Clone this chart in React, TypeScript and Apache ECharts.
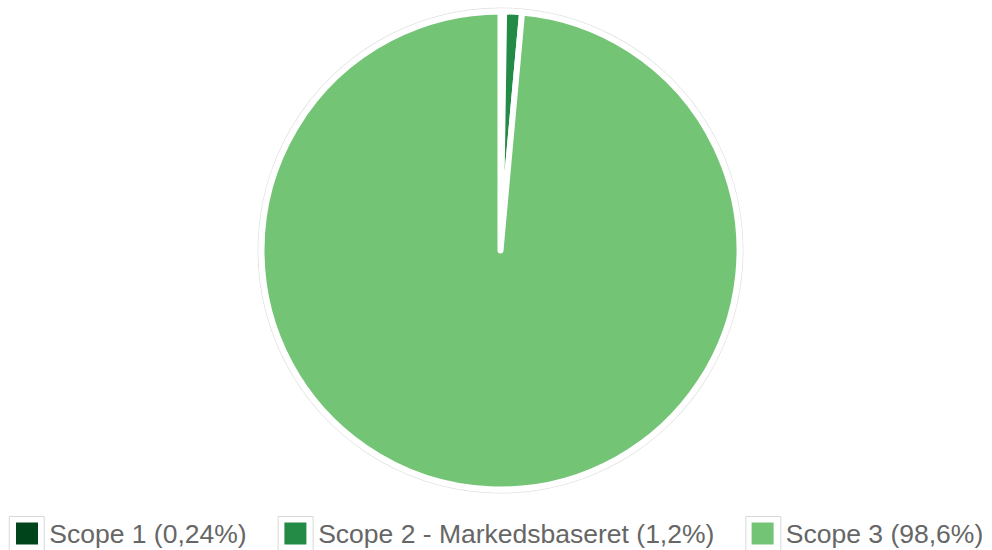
import React, { useEffect, useRef } from "react";
import * as echarts from "echarts";

const categories = ["Scope 1", "Scope 2 - Markedsbaseret", "Scope 3"];
const percentLabels = ["0,24%", "1,2%", "98,6%"];
const values = [0.24, 1.2, 98.6];
const colors = ["#00441b", "#238b45", "#74c476"];

const FONT_FAMILY = "Liberation Sans";
const FONT_SIZE = 26.5;
const BOX = 35;
const INNER = 22;
const ITEM_GAP = 31;
const LEGEND_TOP = 516;
const WIDTH = 992;

export default function App() {
  const ref = useRef<HTMLDivElement>(null);

  useEffect(() => {
    if (!ref.current) return;
    const chart = echarts.init(ref.current, undefined, { renderer: "svg" });
    const labelOf = (name: string) => {
      const i = categories.indexOf(name);
      return `${name} (${percentLabels[i]})`;
    };

    // measure legend texts to place the coloured squares inside the boxes
    const canvas = document.createElement("canvas");
    const ctx = canvas.getContext("2d")!;
    ctx.font = `normal normal ${FONT_SIZE}px ${FONT_FAMILY}`;
    const textW = categories.map((c) => ctx.measureText(labelOf(c)).width);
    const itemW = textW.map((w) => BOX + 5 + w);
    const total = itemW.reduce((a, b) => a + b, 0) + ITEM_GAP * (categories.length - 1);
    const left0 = (WIDTH - total) / 2;
    const squares: any[] = [];
    let x = left0;
    categories.forEach((c, i) => {
      squares.push({
        type: "rect",
        silent: true,
        z: 100,
        shape: {
          x: x + (BOX - INNER) / 2,
          y: LEGEND_TOP + (BOX - INNER) / 2,
          width: INNER,
          height: INNER,
        },
        style: { fill: colors[i] },
      });
      x += itemW[i] + ITEM_GAP;
    });

    chart.setOption({
      animation: false,
      backgroundColor: "#ffffff",
      legend: {
        data: categories,
        orient: "horizontal",
        left: "center",
        top: LEGEND_TOP,
        padding: 0,
        icon: "rect",
        itemWidth: BOX,
        itemHeight: BOX,
        itemGap: ITEM_GAP,
        selectedMode: false,
        formatter: labelOf,
        itemStyle: { color: "#ffffff", borderColor: "#d8d8d8", borderWidth: 1 },
        textStyle: {
          fontFamily: FONT_FAMILY,
          fontSize: FONT_SIZE,
          lineHeight: 26,
          color: "#666666",
        },
      },
      graphic: squares,
      series: [
        {
          type: "pie",
          name: "ring",
          silent: true,
          center: [500.5, 250.5],
          radius: [242, 243],
          label: { show: false },
          labelLine: { show: false },
          itemStyle: { color: "#e4e4e4" },
          data: [{ name: "_ring", value: 1 }],
          z: 1,
        },
        {
          type: "pie",
          name: "Scope",
          center: [500.5, 250.5],
          radius: 239,
          startAngle: 90,
          clockwise: true,
          avoidLabelOverlap: false,
          label: { show: false },
          labelLine: { show: false },
          itemStyle: { borderColor: "#ffffff", borderWidth: 6 },
          emphasis: { disabled: true },
          data: categories.map((c, i) => ({
            name: c,
            value: values[i],
            itemStyle: { color: colors[i] },
          })),
          z: 2,
        },
      ],
    });
    return () => chart.dispose();
  }, []);

  return (
    <div
      ref={ref}
      style={{ position: "fixed", left: 0, top: 0, width: WIDTH, height: 550 }}
    />
  );
}
